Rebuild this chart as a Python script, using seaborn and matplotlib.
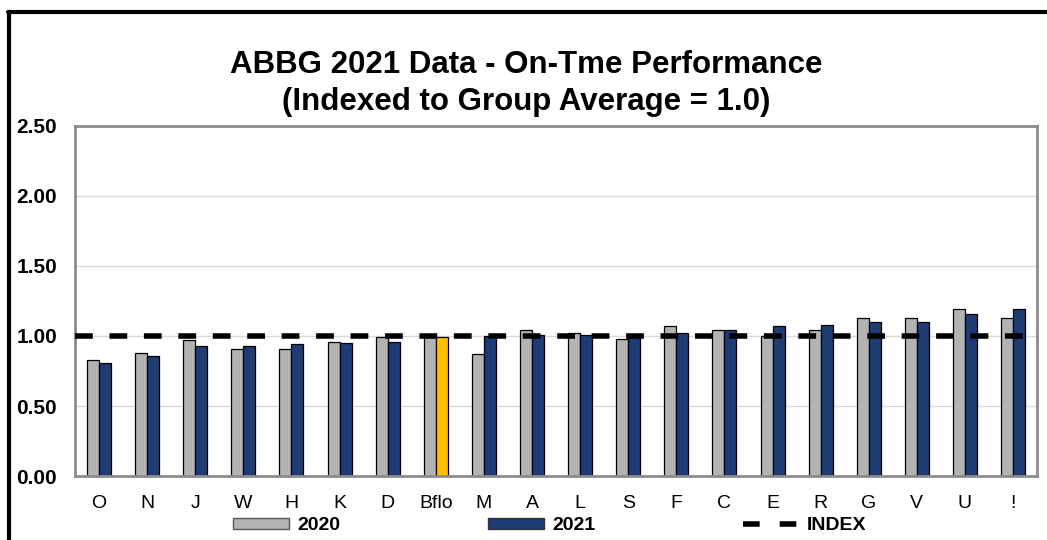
import matplotlib
matplotlib.use("Agg")
import matplotlib.pyplot as plt
from matplotlib.lines import Line2D
from matplotlib.patches import Patch
import numpy as np
import pandas as pd
import seaborn as sns

# Peer cities, ordered by on-time performance
cities = ["O", "N", "J", "W", "H", "K", "D", "Bflo", "M", "A",
          "L", "S", "F", "C", "E", "R", "G", "V", "U", "!"]
perf_2020 = [0.83, 0.88, 0.97, 0.91, 0.91, 0.96, 0.99, 1.00, 0.87, 1.04,
             1.02, 0.98, 1.07, 1.04, 1.00, 1.04, 1.13, 1.13, 1.19, 1.13]
perf_2021 = [0.81, 0.86, 0.93, 0.93, 0.94, 0.95, 0.96, 0.99, 1.00, 1.01,
             1.01, 1.00, 1.02, 1.04, 1.07, 1.08, 1.10, 1.10, 1.155, 1.19]
years = ["2020", "2021"]
index_value = 1.0
highlight_city = "Bflo"
y_ticks = [0.0, 0.5, 1.0, 1.5, 2.0, 2.5]

GRAY = "#b3b3b3"
NAVY = "#1f3b73"
GOLD = "#ffc000"

df = pd.DataFrame({
    "city": cities * 2,
    "year": [years[0]] * len(cities) + [years[1]] * len(cities),
    "value": perf_2020 + perf_2021,
})

sns.set_style("white")
plt.rcParams["font.family"] = ["Liberation Sans", "DejaVu Sans"]
plt.rcParams["text.color"] = "black"
plt.rcParams["xtick.color"] = "black"
plt.rcParams["ytick.color"] = "black"

fig = plt.figure(figsize=(10.47, 5.40), dpi=100)
ax = fig.add_axes([0.0716, 0.1185, 0.9190, 0.6482])

sns.barplot(data=df, x="city", y="value", hue="year", order=cities,
            hue_order=years, palette={years[0]: GRAY, years[1]: NAVY},
            width=0.5, edgecolor="black", linewidth=0.9, saturation=1,
            legend=False, ax=ax)

# highlight the home city's current-year bar
for bar_container, year in zip(ax.containers, years):
    if year == years[1]:
        bar_container.patches[cities.index(highlight_city)].set_facecolor(GOLD)

index_style = (0, (3.2, 3.0))
ax.axhline(index_value, color="black", linewidth=4, linestyle=index_style,
           zorder=3)

ax.set_ylim(0, 2.5)
ax.set_xlim(-0.5, len(cities) - 0.5)
ax.set_yticks(y_ticks)
ax.set_yticklabels([f"{t:.2f}" for t in y_ticks], fontsize=15,
                   fontweight="bold")
ax.tick_params(axis="y", length=0, pad=13)
ax.tick_params(axis="x", length=0, pad=14, labelsize=14)
ax.set_xlabel("")
ax.set_ylabel("")
ax.yaxis.grid(True, color="#d9d9d9", linewidth=1)
ax.set_axisbelow(True)
for side in ax.spines.values():
    side.set_visible(True)
    side.set_color("#8c8c8c")
    side.set_linewidth(2)

fig.text(0.503, 0.88, "ABBG 2021 Data - On-Tme Performance",
         ha="center", va="center", fontsize=22.5, fontweight="bold")
fig.text(0.503, 0.812, "(Indexed to Group Average = 1.0)",
         ha="center", va="center", fontsize=22.5, fontweight="bold")

handles = [
    Patch(facecolor=GRAY, edgecolor="#555555", linewidth=1),
    Patch(facecolor=NAVY, edgecolor="#333333", linewidth=1),
    Line2D([0], [0], color="black", linewidth=4, linestyle=(0, (3.0, 3.6))),
]
fig.legend(handles, years + ["INDEX"], loc="center",
           bbox_to_anchor=(0.525, 0.026), ncol=3, frameon=False,
           prop={"weight": "bold", "size": 14}, handlelength=2.9,
           handleheight=0.55, handletextpad=0.4, columnspacing=7.6)

# outer frame of the chart
fig.add_artist(Line2D([0.0086, 0.0086], [0.0, 0.977], color="black",
                      linewidth=3, transform=fig.transFigure))
fig.add_artist(Line2D([0.0072, 1.0], [0.977, 0.977], color="black",
                      linewidth=3, transform=fig.transFigure))

fig.savefig("out.png", dpi=100)
